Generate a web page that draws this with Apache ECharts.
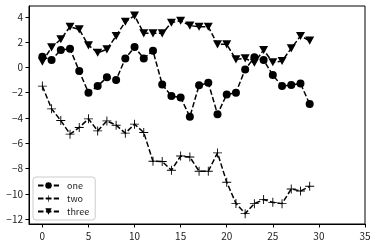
<!DOCTYPE html>
<html>
<head>
<meta charset="utf-8">
<script src="https://cdn.jsdelivr.net/npm/echarts@6/dist/echarts.min.js"></script>
<style>html,body{margin:0;padding:0;background:#fff}#c{width:376px;height:246px}</style>
</head>
<body>
<div id="c"></div>
<script>
var xIndex = [0,1,2,3,4,5,6,7,8,9,10,11,12,13,14,15,16,17,18,19,20,21,22,23,24,25,26,27,28,29];
var seriesNames = ['one', 'two', 'three'];
var oneValues = [0.84,0.58,1.37,1.47,-0.29,-2.0,-1.48,-0.79,-1.0,0.71,1.6,0.71,1.31,-1.35,-2.27,-2.38,-3.9,-1.42,-1.22,-3.7,-2.14,-2.0,-0.16,0.79,0.58,-0.61,-1.48,-1.4,-1.27,-2.9];
var twoValues = [-1.48,-3.28,-4.2,-5.28,-4.75,-4.07,-5.02,-4.23,-4.57,-5.2,-4.49,-5.15,-7.42,-7.44,-8.13,-7.01,-7.08,-8.21,-8.21,-6.76,-9.08,-10.75,-11.56,-10.77,-10.45,-10.67,-10.77,-9.61,-9.77,-9.4];
var threeValues = [0.45,1.58,2.22,3.21,3.0,1.74,1.16,1.42,2.48,3.61,4.09,2.69,2.69,2.69,3.53,3.69,3.3,3.21,3.21,1.82,1.82,0.63,0.71,0.36,1.37,0.4,0.5,1.5,2.48,2.11];
var xTicks = [0,5,10,15,20,25,30,35];
var yTicks = [-12,-10,-8,-6,-4,-2,0,2,4];

var FONT = '"Noto Sans CJK SC", "DejaVu Sans", sans-serif';
var plusPath = 'path://M4.5,0h1v4.5h4.5v1h-4.5v4.5h-1v-4.5h-4.5v-1h4.5z';
var triDownPath = 'path://M0,0L10,0L5,9Z';

function pairs(vals) { return xIndex.map(function (x, i) { return [x, vals[i]]; }); }
function mk(name, vals, symbol, size) {
  return {
    name: name, type: 'line', data: pairs(vals),
    symbol: symbol, symbolSize: size, symbolKeepAspect: true, showAllSymbol: true,
    itemStyle: { color: '#000' },
    lineStyle: { color: '#000', width: 1.5, type: [5.5, 2.4] },
    animation: false
  };
}
var minusFmt = function (v) { return String(v).replace('-', '\u2212'); };

var chart = echarts.init(document.getElementById('c'));
chart.setOption({
  animation: false,
  backgroundColor: '#fff',
  grid: { left: 29, right: 11, top: 6, bottom: 22, show: true, borderColor: '#000', borderWidth: 1, backgroundColor: 'transparent' },
  xAxis: {
    type: 'value', min: -1.45, max: 35,
    splitLine: { show: false },
    axisLine: { show: true, onZero: false, lineStyle: { color: '#000', width: 1 } },
    axisTick: { show: true, length: 3.5, customValues: xTicks, lineStyle: { color: '#000' } },
    axisLabel: { customValues: xTicks, margin: 7, color: '#222', fontSize: 10, fontFamily: FONT, formatter: minusFmt }
  },
  yAxis: {
    type: 'value', min: -12.38, max: 4.85,
    splitLine: { show: false },
    axisLine: { show: true, onZero: false, lineStyle: { color: '#000', width: 1 } },
    axisTick: { show: true, length: 3.5, customValues: yTicks, lineStyle: { color: '#000' } },
    axisLabel: { customValues: yTicks, margin: 6, color: '#222', fontSize: 10, fontFamily: FONT, formatter: minusFmt }
  },
  legend: {
    orient: 'vertical', left: 33, top: 177,
    itemWidth: 21, itemHeight: 8, itemGap: 4,
    padding: [4, 6, 4, 4],
    borderColor: '#ccc', borderWidth: 1, borderRadius: 3, backgroundColor: '#fff',
    textStyle: { color: '#222', fontSize: 9, fontFamily: FONT, padding: [0, 0, 0, 3] },
    data: seriesNames
  },
  series: [
    mk(seriesNames[0], oneValues, 'circle', 8),
    mk(seriesNames[1], twoValues, plusPath, 9),
    mk(seriesNames[2], threeValues, triDownPath, 9)
  ]
});
</script>
</body>
</html>
